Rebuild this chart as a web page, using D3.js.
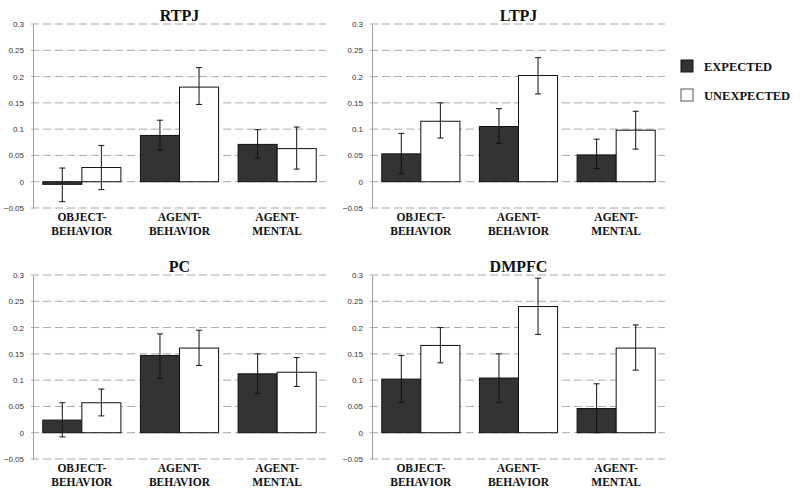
<!DOCTYPE html>
<html><head><meta charset="utf-8">
<script src="https://cdn.jsdelivr.net/npm/d3@7"></script>
<style>body{margin:0;background:#fff}</style>
</head><body>
<svg id="c" width="800" height="493"></svg>
<script>
const regions = ["RTPJ","LTPJ","PC","DMPFC"];
const categories = [["OBJECT-","BEHAVIOR"],["AGENT-","BEHAVIOR"],["AGENT-","MENTAL"]];
const seriesNames = ["EXPECTED","UNEXPECTED"];
const yTicks = [-0.05,0,0.05,0.1,0.15,0.2,0.25,0.3];
// values [region][category]
const expected = [[-0.005,0.088,0.071],[0.053,0.105,0.051],[0.024,0.147,0.112],[0.102,0.104,0.046]];
const unexpected = [[0.027,0.180,0.063],[0.115,0.202,0.098],[0.057,0.161,0.115],[0.166,0.240,0.161]];
// error bar low/high
const expLow = [[-0.038,0.060,0.045],[0.015,0.073,0.025],[-0.008,0.104,0.075],[0.058,0.058,0.000]];
const expHigh = [[0.026,0.117,0.099],[0.092,0.139,0.081],[0.057,0.188,0.150],[0.147,0.150,0.093]];
const unexpLow = [[-0.015,0.147,0.024],[0.083,0.167,0.062],[0.032,0.128,0.088],[0.133,0.187,0.119]];
const unexpHigh = [[0.069,0.217,0.104],[0.150,0.236,0.134],[0.083,0.195,0.143],[0.200,0.294,0.205]];

const svg = d3.select("#c");
const panels = [{x:33,y:24},{x:372,y:24},{x:33,y:275},{x:372,y:275}];
const W = 293, H = 184;
const fills = ["#333333","#ffffff"];

regions.forEach((r,ri)=>{
  const p = panels[ri];
  const g = svg.append("g").attr("transform",`translate(${p.x},${p.y})`);
  const y = d3.scaleLinear().domain([-0.05,0.3]).range([H,0]);
  const x0 = d3.scaleBand().domain(d3.range(categories.length)).range([0,W]).paddingInner(0.2).paddingOuter(0.1);
  const x1 = d3.scaleBand().domain(d3.range(2)).range([0,x0.bandwidth()]);
  // gridlines
  g.selectAll("line.grid").data(yTicks).join("line")
    .attr("x1",-2).attr("x2",W).attr("y1",d=>y(d)).attr("y2",d=>y(d))
    .attr("stroke","#a8a8a8").attr("stroke-width",1).attr("stroke-dasharray","8,4");
  // y axis
  const ax = g.append("g").call(d3.axisLeft(y).tickValues(yTicks).tickSize(0).tickPadding(9).tickFormat(d=>d3.format("")(+d.toFixed(2))));
  ax.select(".domain").attr("stroke","#a0a0a0");
  ax.selectAll("text").attr("font-family","'Liberation Sans',Arial,sans-serif").attr("font-size",8).attr("fill","#333");
  // bars
  const vals = [expected[ri],unexpected[ri]];
  const lows = [expLow[ri],unexpLow[ri]];
  const highs = [expHigh[ri],unexpHigh[ri]];
  categories.forEach((c,ci)=>{
    [0,1].forEach(si=>{
      const v = vals[si][ci];
      const bx = x0(ci)+x1(si);
      g.append("rect").attr("x",bx).attr("width",x1.bandwidth())
        .attr("y",y(Math.max(0,v))).attr("height",Math.abs(y(v)-y(0)))
        .attr("fill",fills[si]).attr("stroke","#111").attr("stroke-width",1);
    });
    [0,1].forEach(si=>{
      const cx = x0(ci)+x1(si)+x1.bandwidth()/2;
      const lo = y(lows[si][ci]), hi = y(highs[si][ci]);
      const eg = g.append("g").attr("stroke","#111").attr("stroke-width",1);
      eg.append("line").attr("x1",cx).attr("x2",cx).attr("y1",lo).attr("y2",hi);
      eg.append("line").attr("x1",cx-3).attr("x2",cx+3).attr("y1",lo).attr("y2",lo);
      eg.append("line").attr("x1",cx-3).attr("x2",cx+3).attr("y1",hi).attr("y2",hi);
    });
    const lx = x0(ci)+x0.bandwidth()/2;
    c.forEach((t,li)=>{
      g.append("text").attr("x",lx).attr("y",H+13+li*14).attr("text-anchor","middle")
        .attr("font-family","'Liberation Serif','Times New Roman',serif").attr("font-weight","bold")
        .attr("font-size",11.5).attr("fill","#111").text(t);
    });
  });
  g.append("text").attr("x",W/2).attr("y",-3).attr("text-anchor","middle")
    .attr("font-family","'Liberation Serif','Times New Roman',serif").attr("font-weight","bold")
    .attr("font-size",16).attr("fill","#111").text(r);
});

// legend
const lg = svg.append("g").attr("transform","translate(681,60)");
seriesNames.forEach((s,i)=>{
  lg.append("rect").attr("x",0).attr("y",i*29).attr("width",12).attr("height",12)
    .attr("fill",fills[i]).attr("stroke",i?"#555":"#111").attr("stroke-width",1);
  lg.append("text").attr("x",23).attr("y",i*29+11).attr("font-family","'Liberation Serif','Times New Roman',serif")
    .attr("font-weight","bold").attr("font-size",12.5).attr("fill","#111").text(s);
});
</script>
</body></html>
